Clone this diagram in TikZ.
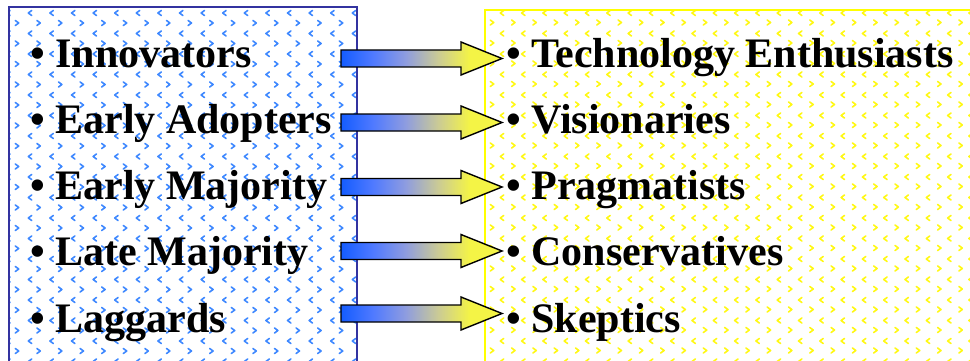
\documentclass[tikz,border=0pt]{standalone}
\usepackage{fontspec}
\setmainfont{Liberation Serif}
\usetikzlibrary{calc}
\definecolor{lboxborder}{RGB}{51,51,160}
\definecolor{lglyphcol}{RGB}{62,136,255}
\definecolor{rboxborder}{RGB}{255,255,0}
\definecolor{rglyphcol}{RGB}{255,248,20}
\definecolor{ablue}{RGB}{20,92,255}
\definecolor{ablue2}{RGB}{80,122,255}
\definecolor{amid}{RGB}{142,156,224}
\definecolor{agray}{RGB}{202,202,150}
\definecolor{ayellow}{RGB}{244,244,70}
\pgfdeclarehorizontalshading{arrowshade}{100bp}{color(0bp)=(ablue); color(25bp)=(ablue); color(35bp)=(ablue2); color(45bp)=(amid); color(55bp)=(agray); color(65bp)=(ayellow); color(100bp)=(ayellow)}
\tikzset{
  lbox/.style={draw=lboxborder, line width=1.5pt},
  rbox/.style={draw=rboxborder, line width=1.5pt},
  lglyph/.style={draw=lglyphcol, line width=1.6pt, line cap=round, line join=round},
  rglyph/.style={draw=rglyphcol, line width=1.6pt, line cap=round, line join=round},
  item/.style={anchor=base west, inner sep=0pt, font=\fontsize{42}{50}\selectfont\bfseries, text=black},
  blockarrow/.style={shading=arrowshade, draw=black, line width=1.4pt, line join=miter}
}
\begin{document}
\begin{tikzpicture}[x=1pt,y=-1pt]
\useasboundingbox (0,0) rectangle (970,361);
\clip (0,0) rectangle (970,361);
% left box
\begin{scope}
  \clip (9,7) rectangle (357,380);
  \foreach \i in {-1,...,16} {
    \foreach \j in {0,...,17} {
      \draw[lglyph] ({30+21.6*\i+1.7},{13+20.5*\j-2.5}) -- ++(-3.4,2.5) -- ++(3.4,2.5);
      \draw[lglyph] ({17+21.6*\i-1.7},{23+20.5*\j-2.5}) -- ++(3.4,2.5) -- ++(-3.4,2.5);
    }
  }
\end{scope}
\draw[lbox] (9,7) rectangle (357,380);
% right box
\begin{scope}
  \clip (485,10) rectangle (990,380);
  \foreach \i in {-1,...,23} {
    \foreach \j in {0,...,17} {
      \draw[rglyph] ({502+21.3*\i+1.7},{13+20.5*\j-2.5}) -- ++(-3.4,2.5) -- ++(3.4,2.5);
      \draw[rglyph] ({492+21.3*\i-1.7},{22.5+20.5*\j-2.5}) -- ++(3.4,2.5) -- ++(-3.4,2.5);
    }
  }
\end{scope}
\draw[rbox] (485,10) rectangle (990,380);
% texts
\node[item] (l1) at (30,68) {• Innovators};
\node[item] (l2) at (30,133) {• Early Adopters};
\node[item] (l3) at (30,199) {• Early Majority};
\node[item] (l4) at (30,265) {• Late Majority};
\node[item] (l5) at (30,332) {• Laggards};
\node[item] (r1) at (506,68) {• Technology Enthusiasts};
\node[item] (r2) at (506,133) {• Visionaries};
\node[item] (r3) at (506,199) {• Pragmatists};
\node[item] (r4) at (506,265) {• Conservatives};
\node[item] (r5) at (506,332) {• Skeptics};
% arrows
\foreach \n/\y in {1/58.5,2/122.5,3/187,4/251,5/313.5} {
  \coordinate (as\n) at (341,\y);
  \coordinate (ae\n) at (502,\y);
  \shadedraw[blockarrow] ($(as\n)+(0,-8.5)$) -- ($(as\n)+(120,-8.5)$) -- ($(as\n)+(120,-16.5)$) -- (ae\n) -- ($(as\n)+(120,16.5)$) -- ($(as\n)+(120,8.5)$) -- ($(as\n)+(0,8.5)$) -- cycle;
}
\end{tikzpicture}
\end{document}
